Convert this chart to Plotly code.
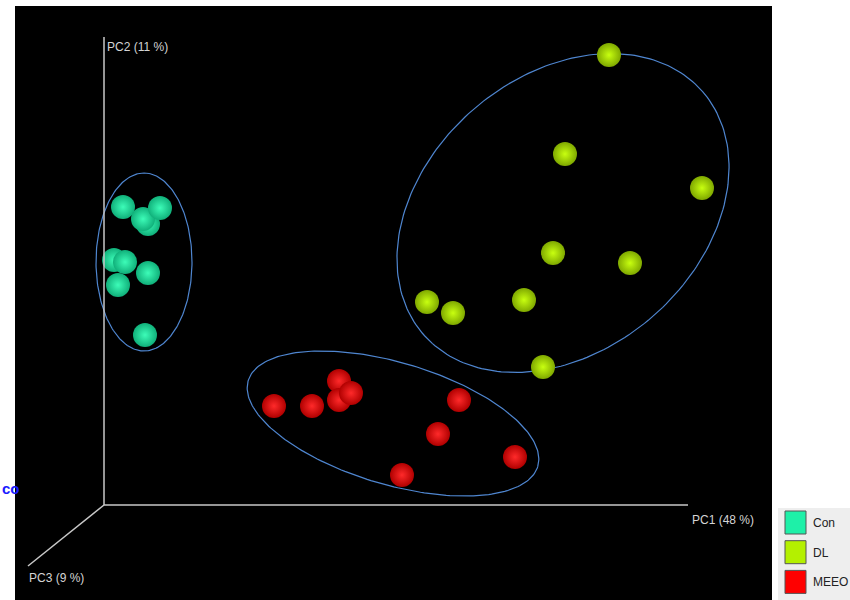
import numpy as np
import plotly.graph_objects as go

# PCA scores projected onto the viewing plane (origin = where the three axes meet)
groups = ["Con", "DL", "MEEO"]
con_x = [10, 21, 44, 14, 41, 44, 39, 19, 56]
con_y = [245, 243, 232, 220, 170, 281, 286, 298, 297]
dl_x = [505, 461, 598, 449, 526, 323, 349, 420, 439]
dl_y = [450, 351, 317, 252, 242, 203, 192, 205, 138]
meeo_x = [170, 208, 235, 235, 247, 355, 334, 411, 298]
meeo_y = [99, 99, 124, 105, 112, 105, 71, 48, 30]

# confidence ellipses: centre x, centre y, semi-major, semi-minor, rotation (deg)
ell_con = [40, 243, 89, 48, 90]
ell_dl = [459, 292, 185, 137, 41]
ell_meeo = [289, 81.5, 151, 61, -16.5]

axis_labels = ["PC1 (48 %)", "PC2 (11 %)", "PC3 (9 %)"]

# sphere shading: highlight at centre, darker rim
highlight = {"Con": "#3dfcb8", "DL": "#c8ff10", "MEEO": "#ff2a2a"}
rim = {"Con": "#10b07a", "DL": "#7fa800", "MEEO": "#b00000"}
legend_fill = {"Con": "#1ef0a8", "DL": "#b4f000", "MEEO": "#ff0000"}

W, H = 850, 600
OX, OY = 104, 505  # pixel position of the axis origin

fig = go.Figure()


def ellipse(cx, cy, a, b, ang):
    t = np.linspace(0, 2 * np.pi, 240)
    th = np.deg2rad(ang)
    x = cx + a * np.cos(t) * np.cos(th) - b * np.sin(t) * np.sin(th)
    y = cy + a * np.cos(t) * np.sin(th) + b * np.sin(t) * np.cos(th)
    return x, y


for e in (ell_con, ell_dl, ell_meeo):
    ex, ey = ellipse(*e)
    fig.add_trace(go.Scatter(x=ex, y=ey, mode="lines",
                             line=dict(color="#4f86d0", width=1.2),
                             hoverinfo="skip", showlegend=False))

for g, xs, ys in (("Con", con_x, con_y), ("DL", dl_x, dl_y), ("MEEO", meeo_x, meeo_y)):
    fig.add_trace(go.Scatter(
        x=xs, y=ys, mode="markers", name=g, showlegend=False,
        marker=dict(size=24, color=rim[g],
                    gradient=dict(type="radial", color=highlight[g]),
                    line=dict(width=0))))

# axes of the 3-D frame
axis_col = "#c8c8c8"
fig.add_shape(type="line", x0=0, y0=0, x1=584, y1=0, line=dict(color=axis_col, width=1.5))
fig.add_shape(type="line", x0=0, y0=0, x1=0, y1=468, line=dict(color=axis_col, width=1.5))
fig.add_shape(type="line", x0=0, y0=0, x1=-76, y1=-61, line=dict(color=axis_col, width=1.5))

lab_font = dict(family="Liberation Sans, Arial", size=12, color="#d4d4d4")
fig.add_annotation(x=586, y=-15, text=axis_labels[0], showarrow=False,
                   xanchor="left", yanchor="middle", font=lab_font)
fig.add_annotation(x=1, y=458, text=axis_labels[1], showarrow=False,
                   xanchor="left", yanchor="middle", font=lab_font)
fig.add_annotation(x=-77, y=-73, text=axis_labels[2], showarrow=False,
                   xanchor="left", yanchor="middle", font=lab_font)

# black viewport
fig.add_shape(type="rect", x0=15 - OX, x1=772 - OX, y0=OY - 600, y1=OY - 6,
              fillcolor="black", line=dict(width=0), layer="below")

# caption fragment to the left of the viewport
fig.add_annotation(xref="paper", yref="paper", x=0, y=1 - 488 / H, text="<b>co</b>",
                   showarrow=False, xanchor="left", yanchor="middle",
                   font=dict(family="Liberation Sans, Arial", size=15, color="#1a1aff"))

# legend panel
fig.add_shape(type="rect", xref="paper", yref="paper",
              x0=778 / W, x1=1, y0=0, y1=1 - 508 / H,
              fillcolor="#eeeeee", line=dict(width=0), layer="below")
for i, g in enumerate(groups):
    top = 511 + i * 29.7
    fig.add_shape(type="rect", xref="paper", yref="paper",
                  x0=785 / W, x1=806 / W, y0=1 - (top + 23) / H, y1=1 - top / H,
                  fillcolor=legend_fill[g], line=dict(color="#555555", width=1))
    fig.add_annotation(xref="paper", yref="paper", x=811 / W, y=1 - (top + 12) / H,
                       text=g, showarrow=False, xanchor="left", yanchor="middle",
                       font=dict(family="Liberation Sans, Arial", size=12, color="#222222"))

fig.update_layout(
    width=W, height=H, margin=dict(l=0, r=0, t=0, b=0),
    paper_bgcolor="white", plot_bgcolor="white",
    xaxis=dict(range=[-OX, W - OX], visible=False, fixedrange=True),
    yaxis=dict(range=[OY - H, OY], visible=False, fixedrange=True),
    showlegend=False,
)

fig.write_html("out.html")
